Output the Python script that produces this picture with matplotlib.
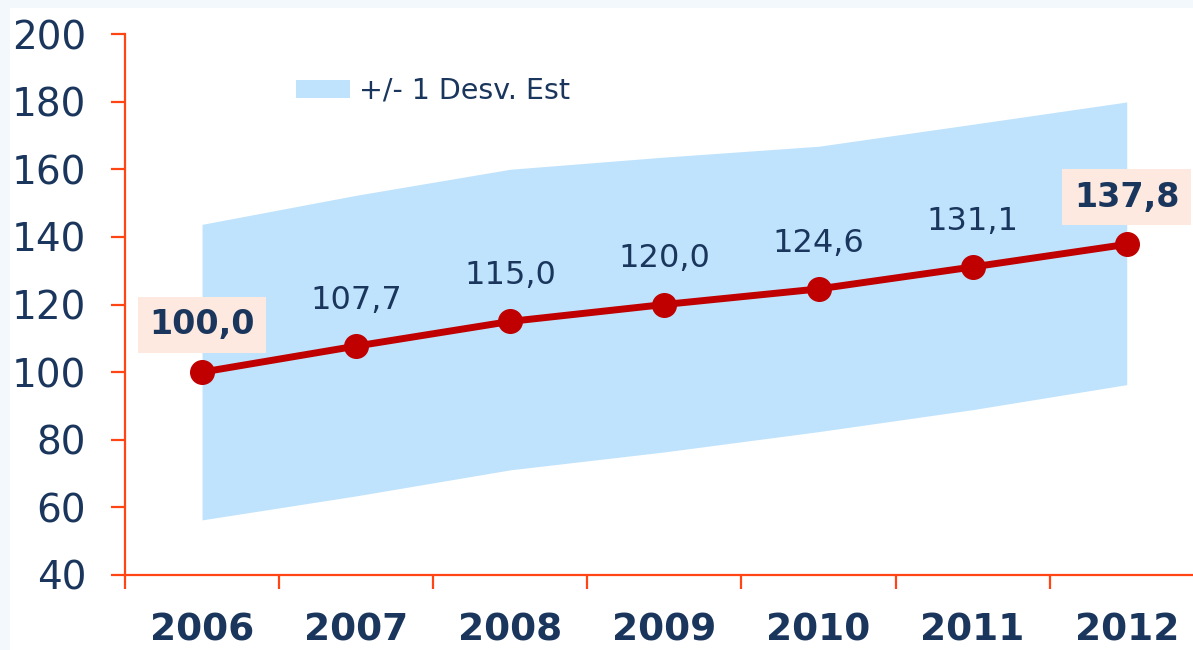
import matplotlib.pyplot as plt
from matplotlib.patches import Rectangle

years = ['2006', '2007', '2008', '2009', '2010', '2011', '2012']
index_values = [100.0, 107.7, 115.0, 120.0, 124.6, 131.1, 137.8]
band_upper = [143.7, 152.3, 160.0, 163.6, 166.8, 173.3, 179.9]
band_lower = [56.3, 63.4, 71.1, 76.4, 82.4, 88.9, 96.3]
legend_label = '+/- 1 Desv. Est'

NAVY = '#1B365D'
SPINE = '#FF4513'
BAND = '#BFE3FC'
LINE = '#C00000'
BOX = '#FDE9E0'

plt.rcParams['font.family'] = ['DejaVu Sans']

fig = plt.figure(figsize=(11.93, 6.5), dpi=100)
fig.patch.set_facecolor('#F3F8FD')
# white panel behind the chart, the faint blue only shows at the edges
fig.patches.append(Rectangle((10 / 1193, 0), 1, 642 / 650, transform=fig.transFigure,
                             facecolor='white', edgecolor='none', zorder=-10))

ax = fig.add_axes([125 / 1193, 75 / 650, 1068 / 1193, 541 / 650])
ax.set_facecolor('none')

x = list(range(len(years)))
band = ax.fill_between(x, band_lower, band_upper, color=BAND, linewidth=0, label=legend_label)
ax.plot(x, index_values, color=LINE, linewidth=5, marker='o', markersize=17, zorder=3)

# value labels: first and last in bold inside a pink box
for i, v in enumerate(index_values):
    txt = f'{v:.1f}'.replace('.', ',')
    if i in (0, len(index_values) - 1):
        ax.annotate(txt, (i, v), xytext=(0, 34), textcoords='offset points',
                    ha='center', va='center', fontsize=24, fontweight='bold', color=NAVY,
                    bbox=dict(boxstyle='square,pad=0.35', facecolor=BOX, edgecolor='none'),
                    zorder=4)
    else:
        ax.annotate(txt, (i, v), xytext=(0, 33), textcoords='offset points',
                    ha='center', va='center', fontsize=23, color=NAVY, zorder=4)

ax.set_ylim(40, 200)
ax.set_xlim(-0.5, 6.43)
ax.set_yticks(range(40, 201, 20))
ax.set_xticks(x)
ax.set_xticklabels(years, fontsize=27, fontweight='bold', color=NAVY)
ax.set_xticks([i - 0.5 for i in range(len(years))], minor=True)

for side in ('top', 'right'):
    ax.spines[side].set_visible(False)
for side in ('left', 'bottom'):
    ax.spines[side].set_color(SPINE)
    ax.spines[side].set_linewidth(1.6)

ax.tick_params(axis='y', which='major', direction='out', length=10, width=1.6,
               color=SPINE, labelsize=28, labelcolor=NAVY, pad=18)
ax.tick_params(axis='x', which='major', length=0, pad=27)
ax.tick_params(axis='x', which='minor', direction='out', length=10, width=1.6, color=SPINE)

ax.legend(handles=[band], loc='upper left', bbox_to_anchor=(0.136, 0.968), frameon=False,
          fontsize=20.5, labelcolor=NAVY, handlelength=1.9, handleheight=0.6, handletextpad=0.3)

fig.savefig('out.png', dpi=100, facecolor=fig.get_facecolor())
